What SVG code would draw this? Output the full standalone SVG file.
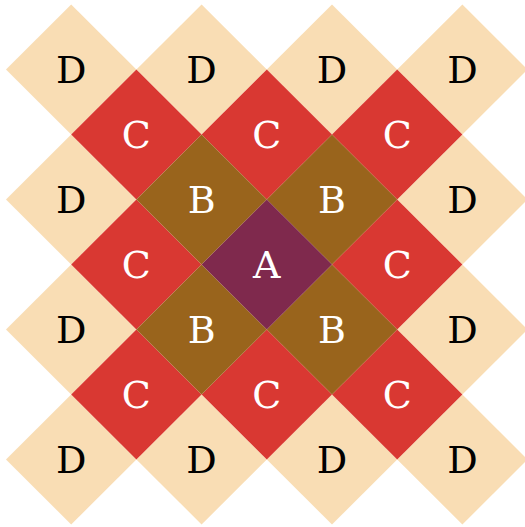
<svg xmlns="http://www.w3.org/2000/svg" width="525" height="527" viewBox="0 0 525 527">
<style>
.d{fill:#f9ddb4}.c{fill:#d93832}.b{fill:#99641c}.a{fill:#7f294d}
text{font-family:"DejaVu Serif","Liberation Serif",serif;font-size:38px;text-anchor:middle}
.dt{fill:#000}.lt{fill:#fff}
</style>
<defs>
<polygon id="dm" points="0,-65 65.2,0 0,65 -65.2,0"/>
</defs>
<rect width="525" height="527" fill="#fff"/>
<g id="D11" transform="translate(71.2,69.5)"><use href="#dm" class="d"/><text class="dt" y="13">D</text></g>
<g id="D31" transform="translate(201.6,69.5)"><use href="#dm" class="d"/><text class="dt" y="13">D</text></g>
<g id="D51" transform="translate(332,69.5)"><use href="#dm" class="d"/><text class="dt" y="13">D</text></g>
<g id="D71" transform="translate(462.4,69.5)"><use href="#dm" class="d"/><text class="dt" y="13">D</text></g>
<g id="D13" transform="translate(71.2,199.5)"><use href="#dm" class="d"/><text class="dt" y="13">D</text></g>
<g id="D73" transform="translate(462.4,199.5)"><use href="#dm" class="d"/><text class="dt" y="13">D</text></g>
<g id="D15" transform="translate(71.2,329.5)"><use href="#dm" class="d"/><text class="dt" y="13">D</text></g>
<g id="D75" transform="translate(462.4,329.5)"><use href="#dm" class="d"/><text class="dt" y="13">D</text></g>
<g id="D17" transform="translate(71.2,459.5)"><use href="#dm" class="d"/><text class="dt" y="13">D</text></g>
<g id="D37" transform="translate(201.6,459.5)"><use href="#dm" class="d"/><text class="dt" y="13">D</text></g>
<g id="D57" transform="translate(332,459.5)"><use href="#dm" class="d"/><text class="dt" y="13">D</text></g>
<g id="D77" transform="translate(462.4,459.5)"><use href="#dm" class="d"/><text class="dt" y="13">D</text></g>
<g id="C22" transform="translate(136.4,134.5)"><use href="#dm" class="c"/><text class="lt" y="13">C</text></g>
<g id="C42" transform="translate(266.8,134.5)"><use href="#dm" class="c"/><text class="lt" y="13">C</text></g>
<g id="C62" transform="translate(397.2,134.5)"><use href="#dm" class="c"/><text class="lt" y="13">C</text></g>
<g id="C24" transform="translate(136.4,264.5)"><use href="#dm" class="c"/><text class="lt" y="13">C</text></g>
<g id="C64" transform="translate(397.2,264.5)"><use href="#dm" class="c"/><text class="lt" y="13">C</text></g>
<g id="C26" transform="translate(136.4,394.5)"><use href="#dm" class="c"/><text class="lt" y="13">C</text></g>
<g id="C46" transform="translate(266.8,394.5)"><use href="#dm" class="c"/><text class="lt" y="13">C</text></g>
<g id="C66" transform="translate(397.2,394.5)"><use href="#dm" class="c"/><text class="lt" y="13">C</text></g>
<g id="B33" transform="translate(201.6,199.5)"><use href="#dm" class="b"/><text class="lt" y="13">B</text></g>
<g id="B53" transform="translate(332,199.5)"><use href="#dm" class="b"/><text class="lt" y="13">B</text></g>
<g id="B35" transform="translate(201.6,329.5)"><use href="#dm" class="b"/><text class="lt" y="13">B</text></g>
<g id="B55" transform="translate(332,329.5)"><use href="#dm" class="b"/><text class="lt" y="13">B</text></g>
<g id="A44" transform="translate(266.8,264.5)"><use href="#dm" class="a"/><text class="lt" y="13">A</text></g>
<g id="connectors"/>
</svg>
